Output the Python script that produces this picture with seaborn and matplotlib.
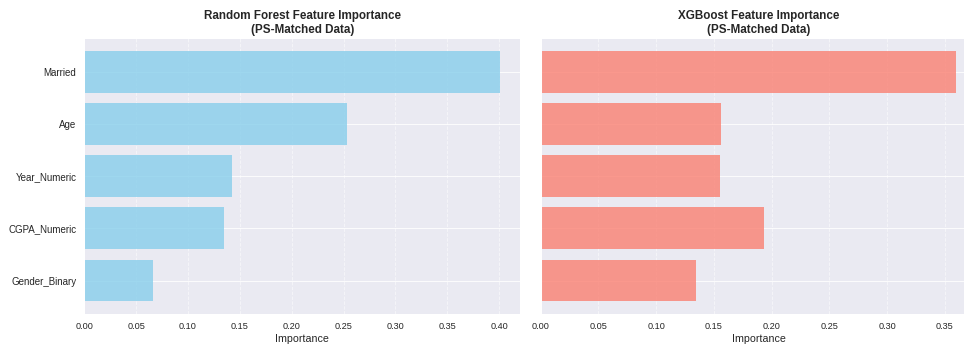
import matplotlib
matplotlib.use("Agg")
import matplotlib.pyplot as plt
import seaborn as sns
import pandas as pd

features = ["Married", "Age", "Year_Numeric", "CGPA_Numeric", "Gender_Binary"]
rf_importance = [0.4003, 0.2537, 0.1424, 0.1347, 0.0665]
xgb_importance = [0.3596, 0.1564, 0.1552, 0.1936, 0.1342]

titles = [
    "Random Forest Feature Importance\n(PS-Matched Data)",
    "XGBoost Feature Importance\n(PS-Matched Data)",
]
colors = ["skyblue", "salmon"]

sns.set_theme(style="darkgrid")
plt.rcParams["font.family"] = ["Liberation Sans", "DejaVu Sans"]

dpi = 60
W, H = 965, 347
fig = plt.figure(figsize=(W / dpi, H / dpi), dpi=dpi)

# axes boxes in pixel units: left, bottom, width, height
ax_w, ax_h = 436.0, 275.7
bottom_px = H - 314.0
boxes = [(84.3, bottom_px, ax_w, ax_h), (540.7, bottom_px, ax_w, ax_h)]

for i, (vals, title, color) in enumerate(zip([rf_importance, xgb_importance], titles, colors)):
    l, b, w, h = boxes[i]
    ax = fig.add_axes([l / W, b / H, w / W, h / H])
    df = pd.DataFrame({"Feature": features, "Importance": vals})
    sns.barplot(data=df, x="Importance", y="Feature", orient="h", color=color,
                saturation=1, alpha=0.8, width=0.8, linewidth=0, ax=ax)
    n = len(features)
    ax.set_ylim(n - 1 + 0.4 + 0.24, -0.4 - 0.24)
    ax.set_xlim(0, max(vals) * 1.05)
    ax.yaxis.grid(True)
    ax.grid(axis="x", alpha=0.55, linestyle="--", linewidth=1.1)
    ax.set_ylabel("")
    ax.set_xlabel("Importance", fontsize=12.8)
    ax.set_title(title, fontsize=14, fontweight="bold")
    ax.tick_params(axis="x", labelsize=11)
    ax.tick_params(axis="y", labelsize=11.7)
    if i == 1:
        ax.tick_params(axis="y", labelleft=False)

fig.savefig("out.png", dpi=dpi)
